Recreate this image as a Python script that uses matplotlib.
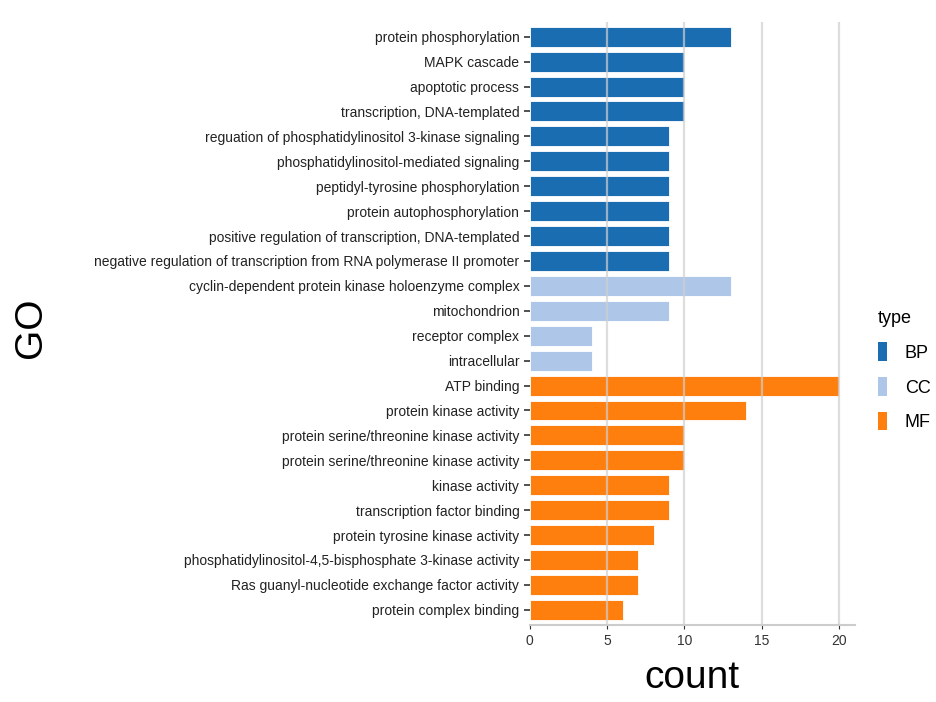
import matplotlib
matplotlib.use("Agg")
import matplotlib.pyplot as plt
from matplotlib.patches import Patch

plt.rcParams['font.family'] = ['Liberation Sans', 'DejaVu Sans']

# GO terms, top to bottom
bp_terms = [
    "protein phosphorylation",
    "MAPK cascade",
    "apoptotic process",
    "transcription, DNA-templated",
    "reguation of phosphatidylinositol 3-kinase signaling",
    "phosphatidylinositol-mediated signaling",
    "peptidyl-tyrosine phosphorylation",
    "protein autophosphorylation",
    "positive regulation of transcription, DNA-templated",
    "negative regulation of transcription from RNA polymerase II promoter",
]
bp_counts = [13, 10, 10, 10, 9, 9, 9, 9, 9, 9]

cc_terms = [
    "cyclin-dependent protein kinase holoenzyme complex",
    "mitochondrion",
    "receptor complex",
    "intracellular",
]
cc_counts = [13, 9, 4, 4]

mf_terms = [
    "ATP binding",
    "protein kinase activity",
    "protein serine/threonine kinase activity",
    "protein serine/threonine kinase activity",
    "kinase activity",
    "transcription factor binding",
    "protein tyrosine kinase activity",
    "phosphatidylinositol-4,5-bisphosphate 3-kinase activity",
    "Ras guanyl-nucleotide exchange factor activity",
    "protein complex binding",
]
mf_counts = [20, 14, 10, 10, 9, 9, 8, 7, 7, 6]

types = ["BP", "CC", "MF"]
colors = {"BP": "#1b6db2", "CC": "#aec7e8", "MF": "#ff7f0e"}

terms = bp_terms + cc_terms + mf_terms
counts = bp_counts + cc_counts + mf_counts
kinds = ["BP"] * len(bp_terms) + ["CC"] * len(cc_terms) + ["MF"] * len(mf_terms)

fig = plt.figure(figsize=(9.36, 7.02), dpi=100)
ax = fig.add_axes([0.566, 0.110, 0.347, 0.859])

n = len(terms)
ypos = list(range(n - 1, -1, -1))
ax.barh(ypos, counts, height=0.8, color=[colors[k] for k in kinds],
        edgecolor="white", linewidth=0.6, zorder=2)

ax.set_yticks(ypos)
ax.set_yticklabels(terms, fontsize=10, color="#222222")
ax.set_ylim(-0.6, n - 0.4)
ax.set_xlim(0, 21)
ax.set_xticks([0, 5, 10, 15, 20])
ax.tick_params(axis="x", labelsize=10, colors="#333333", length=3)
ax.tick_params(axis="y", length=4, width=1.2, color="#333333")

for x in [5, 10, 15, 20]:
    ax.axvline(x, color="#cfcfcf", linewidth=1.6, alpha=0.7, zorder=3)

for s in ["top", "right", "left"]:
    ax.spines[s].set_visible(False)
ax.spines["bottom"].set_color("#cccccc")
ax.spines["bottom"].set_linewidth(1.5)

ax.set_xlabel("count", fontsize=28, labelpad=9)
fig.text(0.033, 0.533, "GO", rotation=90, fontsize=28, ha="center", va="center")

handles = [Patch(facecolor=colors[t], label=t) for t in types]
leg = fig.legend(handles=handles, title="type", loc="center left",
                 bbox_to_anchor=(0.934, 0.472), frameon=False, fontsize=13,
                 title_fontsize=13, handlelength=0.5, handleheight=1.2,
                 handletextpad=1.0, labelspacing=0.85, alignment="left",
                 borderpad=0.2, borderaxespad=0.0)

fig.savefig("out.png", dpi=100)
